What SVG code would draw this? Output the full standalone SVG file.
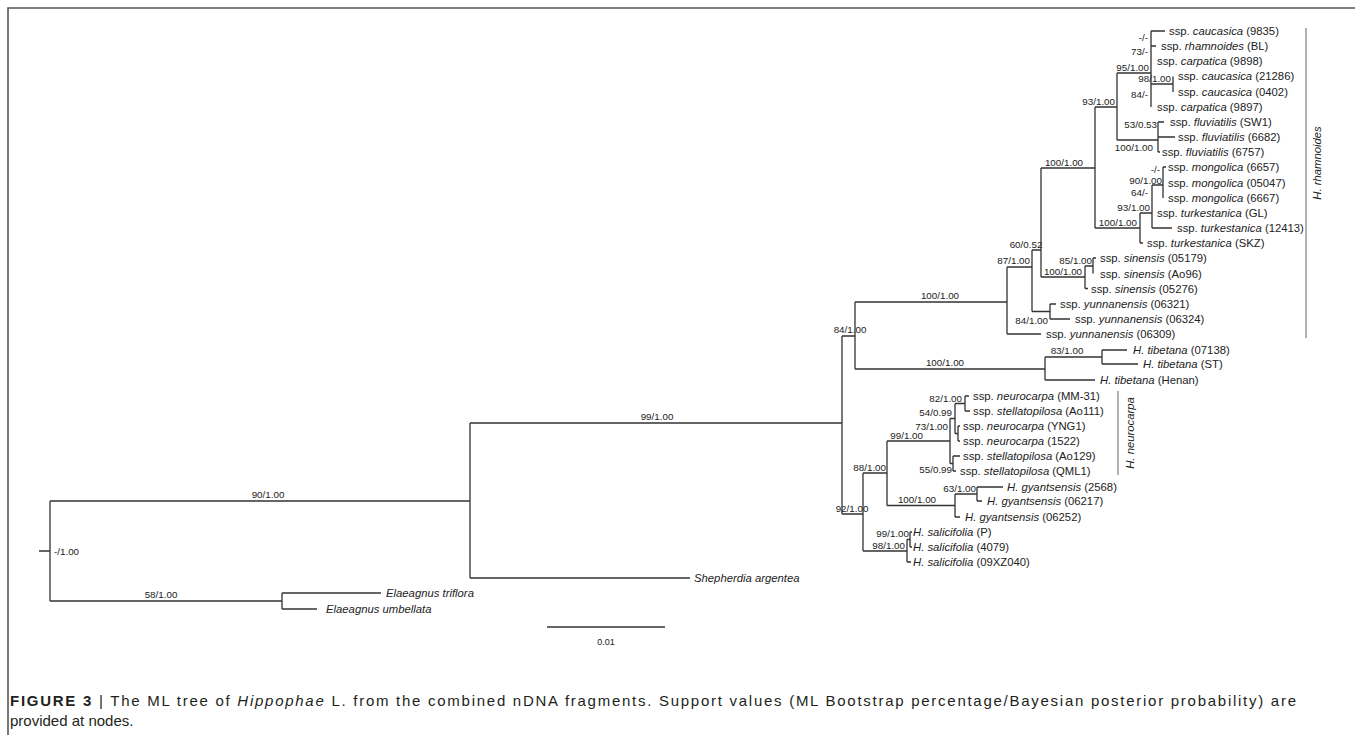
<svg xmlns="http://www.w3.org/2000/svg" width="1355" height="735" viewBox="0 0 1355 735">
<style>
.b{fill:none;stroke:#333;stroke-width:1.3}
.fr{fill:none;stroke:#555;stroke-width:1.6}
.br{fill:none;stroke:#888;stroke-width:1.3}
.l{font-family:"Liberation Sans",Arial,sans-serif;font-size:11.3px;fill:#222}
.s{font-family:"Liberation Sans",Arial,sans-serif;font-size:9.8px;fill:#222}
.e{text-anchor:end}
.m{text-anchor:middle}
.i{font-style:italic}
.cap{font-family:"Liberation Sans",Arial,sans-serif;font-size:15px;fill:#231f20}
</style>
<rect width="1355" height="735" fill="#fff"/>
<path class="fr" d="M8,735 V8 H1355"/>
<g id="connectors">
<path class="b" d="M39,551 H50 M50,501 V601 M50,501 H470 M50,601 H282
M282,593 V609 M282,593 H381 M282,609 H317
M470,423 V578 M470,578 H690 M470,423 H842
M842,336 V514 M842,336 H855 M842,514 H863
M855,302 V369 M855,302 H1007 M855,369 H1045
M1007,267 V334 M1007,267 H1032 M1007,334 H1041
M1032,250 V311.5 M1032,250 H1041 M1032,311.5 H1050
M1041,168 V277 M1041,168 H1095 M1041,277 H1085
M1095,107 V228 M1095,107 H1117 M1095,228 H1140
M1117,73 V140 M1117,73 H1151 M1117,140 H1158
M1151,31 V107 M1151,31 H1165 M1151,46 H1156 M1151,84 H1173
M1173,76.5 V92
M1158,122 V152 M1158,122 H1164 M1158,137 H1175 M1158,152 H1160
M1140,213 V243 M1140,213 H1152 M1140,243 H1143
M1152,185 V228 M1152,185 H1163 M1152,228 H1172
M1163,167 V198 M1163,167 H1166
M1085,266 V288.5 M1085,266 H1093 M1085,288.5 H1088
M1093,258 V273.5 M1093,258 H1096
M1050,304 V319 M1050,304 H1056 M1050,319 H1070
M1045,357 V380 M1045,357 H1102 M1045,380 H1095
M1102,350 V364 M1102,350 H1127 M1102,364 H1138
M863,473 V551 M863,473 H887 M863,551 H907
M887,441 V505.5 M887,441 H950 M887,505.5 H955
M950,418.5 V463.5 M950,418.5 H955 M950,463.5 H953
M955,403.5 V433.5 M955,403.5 H965 M955,433.5 H958
M965,396 V411 M965,396 H969 M965,411 H970
M958,426 V441 M958,426 H960 M958,441 H960
M953,456 V471 M953,456 H960 M953,471 H956
M955,494 V517 M955,494 H977 M955,517 H960
M977,487 V501 M977,487 H1003 M977,501 H982
M907,539.5 V562 M907,539.5 H910 M907,562 H911
M910,532 V547 M910,532 H912 M910,547 H912
M547,627 H665"/>
<path class="br" d="M1306,28 V338 M1118,391 V475"/>
</g>
<g id="support">
<text class="s" x="54" y="555">-/1.00</text>
<text class="s m" x="268" y="498">90/1.00</text>
<text class="s m" x="161" y="598">58/1.00</text>
<text class="s m" x="657" y="420">99/1.00</text>
<text class="s m" x="850" y="333">84/1.00</text>
<text class="s m" x="940" y="299">100/1.00</text>
<text class="s m" x="945" y="366">100/1.00</text>
<text class="s m" x="1067" y="354">83/1.00</text>
<text class="s e" x="1030" y="264">87/1.00</text>
<text class="s m" x="1026" y="248">60/0.52</text>
<text class="s m" x="1064" y="166">100/1.00</text>
<text class="s m" x="1063" y="275">100/1.00</text>
<text class="s e" x="1092" y="264">85/1.00</text>
<text class="s e" x="1048" y="324">84/1.00</text>
<text class="s e" x="1115" y="105">93/1.00</text>
<text class="s e" x="1149" y="71">95/1.00</text>
<text class="s e" x="1148" y="41">-/-</text>
<text class="s e" x="1148" y="55">73/-</text>
<text class="s e" x="1171" y="82">98/1.00</text>
<text class="s e" x="1148" y="98">84/-</text>
<text class="s e" x="1157" y="128">53/0.53</text>
<text class="s e" x="1153" y="151">100/1.00</text>
<text class="s e" x="1160" y="173">-/-</text>
<text class="s e" x="1162" y="184">90/1.00</text>
<text class="s e" x="1148" y="196">64/-</text>
<text class="s e" x="1150" y="211">93/1.00</text>
<text class="s e" x="1137" y="226">100/1.00</text>
<text class="s e" x="962" y="402">82/1.00</text>
<text class="s e" x="952" y="416">54/0.99</text>
<text class="s e" x="948" y="430">73/1.00</text>
<text class="s e" x="923" y="439">99/1.00</text>
<text class="s e" x="952" y="473">55/0.99</text>
<text class="s e" x="886" y="471">88/1.00</text>
<text class="s m" x="917" y="503">100/1.00</text>
<text class="s e" x="976" y="492">63/1.00</text>
<text class="s m" x="852" y="512">92/1.00</text>
<text class="s e" x="909" y="537">99/1.00</text>
<text class="s e" x="905" y="549">98/1.00</text>
<text class="s m" x="606" y="645" style="font-size:9px">0.01</text>
</g>
<g id="leaf-caucasica-9835"><text class="l" x="1169" y="35">ssp. <tspan class="i">caucasica</tspan> (9835)</text></g>
<g id="leaf-rhamnoides-BL"><text class="l" x="1161" y="50">ssp. <tspan class="i">rhamnoides</tspan> (BL)</text></g>
<g id="leaf-carpatica-9898"><text class="l" x="1157" y="65">ssp. <tspan class="i">carpatica</tspan> (9898)</text></g>
<g id="leaf-caucasica-21286"><text class="l" x="1178" y="80">ssp. <tspan class="i">caucasica</tspan> (21286)</text></g>
<g id="leaf-caucasica-0402"><text class="l" x="1178" y="96">ssp. <tspan class="i">caucasica</tspan> (0402)</text></g>
<g id="leaf-carpatica-9897"><text class="l" x="1157" y="111">ssp. <tspan class="i">carpatica</tspan> (9897)</text></g>
<g id="leaf-fluviatilis-SW1"><text class="l" x="1170" y="126">ssp. <tspan class="i">fluviatilis</tspan> (SW1)</text></g>
<g id="leaf-fluviatilis-6682"><text class="l" x="1178" y="141">ssp. <tspan class="i">fluviatilis</tspan> (6682)</text></g>
<g id="leaf-fluviatilis-6757"><text class="l" x="1162" y="156">ssp. <tspan class="i">fluviatilis</tspan> (6757)</text></g>
<g id="leaf-mongolica-6657"><text class="l" x="1168" y="171">ssp. <tspan class="i">mongolica</tspan> (6657)</text></g>
<g id="leaf-mongolica-05047"><text class="l" x="1168" y="186.5">ssp. <tspan class="i">mongolica</tspan> (05047)</text></g>
<g id="leaf-mongolica-6667"><text class="l" x="1168" y="202">ssp. <tspan class="i">mongolica</tspan> (6667)</text></g>
<g id="leaf-turkestanica-GL"><text class="l" x="1157" y="217">ssp. <tspan class="i">turkestanica</tspan> (GL)</text></g>
<g id="leaf-turkestanica-12413"><text class="l" x="1177" y="232">ssp. <tspan class="i">turkestanica</tspan> (12413)</text></g>
<g id="leaf-turkestanica-SKZ"><text class="l" x="1147" y="247">ssp. <tspan class="i">turkestanica</tspan> (SKZ)</text></g>
<g id="leaf-sinensis-05179"><text class="l" x="1100" y="262">ssp. <tspan class="i">sinensis</tspan> (05179)</text></g>
<g id="leaf-sinensis-Ao96"><text class="l" x="1100" y="277.5">ssp. <tspan class="i">sinensis</tspan> (Ao96)</text></g>
<g id="leaf-sinensis-05276"><text class="l" x="1091" y="292.5">ssp. <tspan class="i">sinensis</tspan> (05276)</text></g>
<g id="leaf-yunnanensis-06321"><text class="l" x="1060" y="308">ssp. <tspan class="i">yunnanensis</tspan> (06321)</text></g>
<g id="leaf-yunnanensis-06324"><text class="l" x="1075" y="323">ssp. <tspan class="i">yunnanensis</tspan> (06324)</text></g>
<g id="leaf-yunnanensis-06309"><text class="l" x="1046" y="338">ssp. <tspan class="i">yunnanensis</tspan> (06309)</text></g>
<g id="leaf-tibetana-07138"><text class="l" x="1133" y="354"><tspan class="i">H. tibetana</tspan> (07138)</text></g>
<g id="leaf-tibetana-ST"><text class="l" x="1143" y="368"><tspan class="i">H. tibetana</tspan> (ST)</text></g>
<g id="leaf-tibetana-Henan"><text class="l" x="1100" y="384"><tspan class="i">H. tibetana</tspan> (Henan)</text></g>
<g id="leaf-neurocarpa-MM31"><text class="l" x="973" y="400">ssp. <tspan class="i">neurocarpa</tspan> (MM-31)</text></g>
<g id="leaf-stellatopilosa-Ao111"><text class="l" x="973" y="415">ssp. <tspan class="i">stellatopilosa</tspan> (Ao111)</text></g>
<g id="leaf-neurocarpa-YNG1"><text class="l" x="963" y="430">ssp. <tspan class="i">neurocarpa</tspan> (YNG1)</text></g>
<g id="leaf-neurocarpa-1522"><text class="l" x="963" y="445">ssp. <tspan class="i">neurocarpa</tspan> (1522)</text></g>
<g id="leaf-stellatopilosa-Ao129"><text class="l" x="963" y="460">ssp. <tspan class="i">stellatopilosa</tspan> (Ao129)</text></g>
<g id="leaf-stellatopilosa-QML1"><text class="l" x="960" y="475">ssp. <tspan class="i">stellatopilosa</tspan> (QML1)</text></g>
<g id="leaf-gyantsensis-2568"><text class="l" x="1007" y="491"><tspan class="i">H. gyantsensis</tspan> (2568)</text></g>
<g id="leaf-gyantsensis-06217"><text class="l" x="987" y="505"><tspan class="i">H. gyantsensis</tspan> (06217)</text></g>
<g id="leaf-gyantsensis-06252"><text class="l" x="965" y="521"><tspan class="i">H. gyantsensis</tspan> (06252)</text></g>
<g id="leaf-salicifolia-P"><text class="l" x="913" y="536"><tspan class="i">H. salicifolia</tspan> (P)</text></g>
<g id="leaf-salicifolia-4079"><text class="l" x="913" y="551"><tspan class="i">H. salicifolia</tspan> (4079)</text></g>
<g id="leaf-salicifolia-09XZ040"><text class="l" x="913" y="566"><tspan class="i">H. salicifolia</tspan> (09XZ040)</text></g>
<g id="leaf-shepherdia"><text class="l i" x="694" y="582">Shepherdia argentea</text></g>
<g id="leaf-elaeagnus-triflora"><text class="l i" x="386" y="597">Elaeagnus triflora</text></g>
<g id="leaf-elaeagnus-umbellata"><text class="l i" x="326" y="613">Elaeagnus umbellata</text></g>
<g id="clade-rhamnoides"><text class="l i m" x="1321" y="163" transform="rotate(-90 1321 163)">H. rhamnoides</text></g>
<g id="clade-neurocarpa"><text class="l i m" x="1134" y="433" transform="rotate(-90 1134 433)">H. neurocarpa</text></g>
<g id="caption">
<text class="cap" x="10" y="706" textLength="1286" lengthAdjust="spacing"><tspan font-weight="bold">FIGURE 3</tspan> | The ML tree of <tspan class="i">Hippophae</tspan> L. from the combined nDNA fragments. Support values (ML Bootstrap percentage/Bayesian posterior probability) are</text>
<text class="cap" x="10" y="726">provided at nodes.</text>
</g>
</svg>
